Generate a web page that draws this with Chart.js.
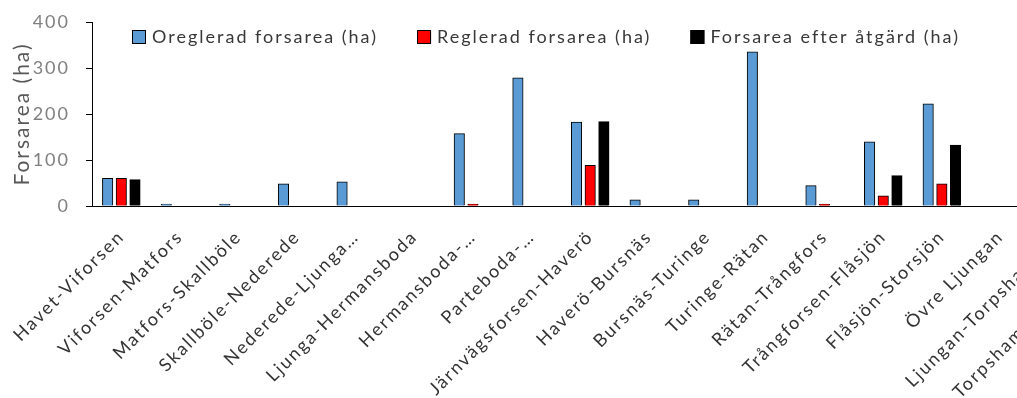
<!DOCTYPE html>
<html>
<head>
<meta charset="utf-8">
<title>Forsarea</title>
<script src="https://cdn.jsdelivr.net/npm/chart.js@4.4.0/dist/chart.umd.min.js"></script>
<style>
  html, body { margin: 0; padding: 0; background: #ffffff; overflow: hidden; }
  #wrap { position: relative; width: 1150px; height: 398px; }
</style>
</head>
<body>
<div id="wrap"><canvas id="chart" width="1150" height="398"></canvas></div>
<script>
// River reaches along Ljungan, from the sea upstream
const categories = [
  'Havet-Viforsen', 'Viforsen-Matfors', 'Matfors-Skallböle', 'Skallböle-Nederede',
  'Nederede-Ljunga…', 'Ljunga-Hermansboda', 'Hermansboda-…', 'Parteboda-…',
  'Järnvägsforsen-Haverö', 'Haverö-Bursnäs', 'Bursnäs-Turinge', 'Turinge-Rätan',
  'Rätan-Trångfors', 'Trångforsen-Flåsjön', 'Flåsjön-Storsjön', 'Övre Ljungan',
  'Ljungan-Torpshammar', 'Torpshammar-Gimdalen'
];

// Rapids area per reach (ha)
const oreglerad   = [60, 4, 4, 48, 52, 0, 157, 278, 182, 13, 13, 335, 44, 139, 222, 0, null, null];
const reglerad    = [60, 0, 0, 0, 0, 0, 4, 0, 88, 0, 0, 0, 4, 22, 48, 0, null, null];
const efterAtgard = [57, 0, 0, 0, 0, 0, 0, 0, 183, 0, 0, 0, 0, 66, 132, 0, null, null];

const seriesNames = ['Oreglerad forsarea (ha)', 'Reglerad forsarea (ha)', 'Forsarea efter åtgärd (ha)'];
const yTicks = [0, 100, 200, 300, 400];

const FONT = 'Lato, "Open Sans", sans-serif';

// Slightly open letter spacing for all canvas text
const spacingPlugin = {
  id: 'spacing',
  beforeUpdate(chart) { chart.ctx.letterSpacing = '2px'; },
  beforeDraw(chart) { chart.ctx.letterSpacing = '2px'; }
};

// Legend drawn as a single row inside the top of the plot
const insideLegend = {
  id: 'insideLegend',
  afterDraw(chart, args, opts) {
    const ctx = chart.ctx;
    ctx.save();
    ctx.font = opts.font;
    ctx.textBaseline = 'middle';
    ctx.textAlign = 'left';
    let x = opts.x;
    const y = opts.y;
    const b = opts.box;
    chart.data.datasets.forEach(ds => {
      ctx.fillStyle = ds.backgroundColor;
      ctx.fillRect(x, y - b / 2, b, b);
      ctx.strokeStyle = '#000000';
      ctx.lineWidth = 1;
      ctx.strokeRect(x + 0.5, y - b / 2 + 0.5, b - 1, b - 1);
      ctx.fillStyle = opts.color;
      ctx.fillText(ds.label, x + b + opts.gap, y);
      x += b + opts.gap + ctx.measureText(ds.label).width + opts.spacing;
    });
    ctx.restore();
  }
};

const barStyle = { borderColor: '#000000', borderWidth: 1, borderSkipped: 'start', inflateAmount: 0.5 };

new Chart(document.getElementById('chart'), {
  type: 'bar',
  data: {
    labels: categories,
    datasets: [
      Object.assign({ label: seriesNames[0], data: oreglerad,   backgroundColor: '#5B9BD5' }, barStyle),
      Object.assign({ label: seriesNames[1], data: reglerad,    backgroundColor: '#FF0000' }, barStyle),
      Object.assign({ label: seriesNames[2], data: efterAtgard, backgroundColor: '#000000' }, barStyle)
    ]
  },
  options: {
    responsive: false,
    animation: false,
    devicePixelRatio: 1,
    categoryPercentage: 0.70,
    barPercentage: 0.74,
    layout: { padding: { top: 22, right: 3, bottom: 0, left: 0 } },
    plugins: {
      legend: { display: false },
      tooltip: { enabled: false },
      insideLegend: {
        x: 132, y: 37, box: 14, gap: 6, spacing: 39,
        font: '18px ' + FONT, color: '#383838'
      }
    },
    scales: {
      x: {
        grid: { display: false },
        border: { display: true, color: '#000000', width: 1 },
        ticks: {
          autoSkip: false, maxRotation: 45, minRotation: 45,
          color: '#333333', padding: 12,
          font: { family: FONT, size: 18 }
        },
        afterFit(scale) { scale.height = 192; }
      },
      y: {
        min: 0, max: 400,
        afterBuildTicks(scale) { scale.ticks = yTicks.map(v => ({ value: v })); },
        grid: { display: true, drawOnChartArea: false, drawTicks: true, tickLength: 6, color: '#000000' },
        border: { display: true, color: '#000000', width: 1 },
        ticks: { color: '#808080', padding: 16, font: { family: FONT, size: 18 } },
        title: {
          display: true, text: 'Forsarea (ha)', color: '#595959',
          font: { family: FONT, size: 21 }, padding: { top: 10, bottom: 0 }
        },
        afterFit(scale) {
          scale.width = 92;
          scale.paddingTop = 0;
          scale.paddingBottom = 0;
        }
      }
    }
  },
  plugins: [spacingPlugin, insideLegend]
});
</script>
</body>
</html>
